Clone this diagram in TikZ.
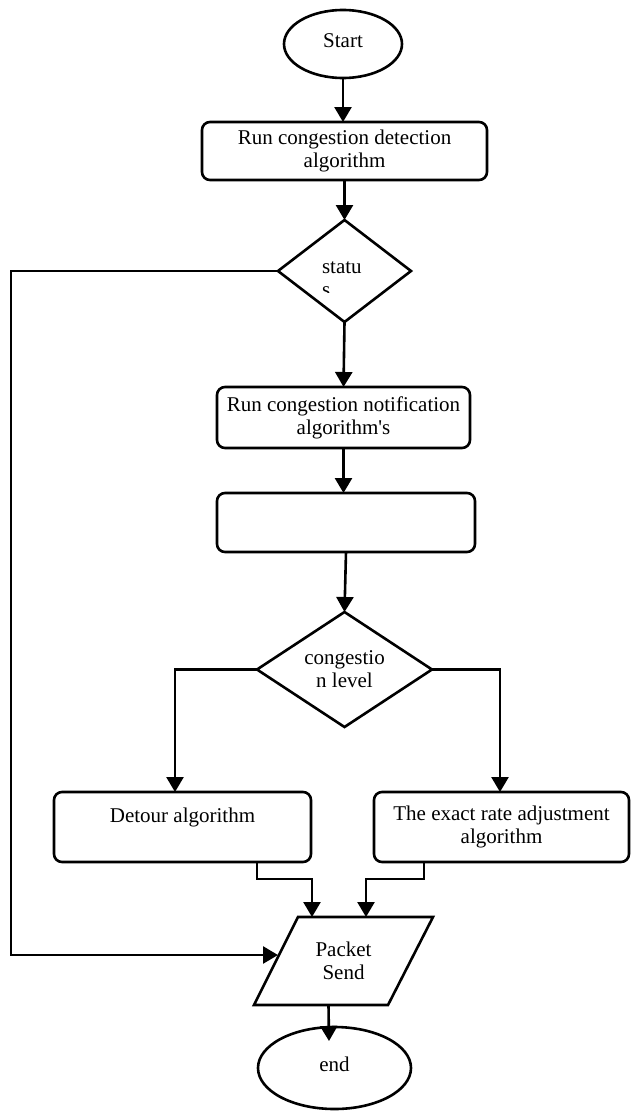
\documentclass[tikz,border=0pt]{standalone}
\usepackage{fontspec}
\setmainfont{Liberation Serif}[Ligatures=TeXOff]
\usetikzlibrary{shapes.geometric,arrows.meta,calc}
\begin{document}
\begin{tikzpicture}[x=1pt,y=-1pt,
  line width=2.6pt,
  every node/.style={font=\fontsize{21}{23}\selectfont, inner sep=0pt, outer sep=0pt},
  arr/.style={-{Triangle[length=15pt,width=17pt]}},
  proc/.style={draw, rectangle, rounded corners=8pt, align=center},
  dec/.style={draw, diamond},
  term/.style={draw, ellipse},
  lbl/.style={align=center}]
\useasboundingbox (0,0) rectangle (630,1111);

\node[term, minimum width=118pt, minimum height=68pt] (start) at (343,44) {\raisebox{7pt}{Start}};
\node[proc, minimum width=285pt, minimum height=58pt] (box1) at (344.5,151) {Run congestion detection\\algorithm};
\node[dec, minimum width=133pt, minimum height=102pt] (status) at (344.5,271) {};
\node[anchor=base west] (st1) at (322,273) {statu};
\begin{scope}
  \clip (300,240) rectangle (380,292);
  \node[anchor=base west] (st2) at (322,296) {s};
\end{scope}
\node[proc, minimum width=253pt, minimum height=61pt] (box2) at (343.5,417.5) {Run congestion notification\\algorithm's};
\node[proc, minimum width=258pt, minimum height=59pt] (box3) at (346,522.5) {};
\node[dec, minimum width=175pt, minimum height=115pt] (dia2) at (344.5,669.5) {};
\node[lbl] (dtxt) at (344.5,669) {congestio\\n level};
\node[proc, minimum width=257pt, minimum height=70pt] (detour) at (182.5,827) {Detour algorithm\\\mbox{}};
\node[proc, minimum width=255pt, minimum height=70pt] (rate) at (501.5,827) {The exact rate adjustment\\algorithm};
\node[minimum width=179pt, minimum height=88pt, align=center] (packet) at (343.5,961) {Packet\\Send};
\draw (packet.south west) -- ([xshift=44pt]packet.north west) -- (packet.north east) -- ([xshift=-45pt]packet.south east) -- cycle;
\node[term, minimum width=153pt, minimum height=82pt] (end) at (334.5,1068) {\raisebox{7pt}{end}};

\draw[arr] (start.south) -- (start.south |- box1.north);
\draw[arr] (box1.south) -- (status.north);
\draw[arr] (status.south) -- (box2.north);
\draw[arr] (box2.south) -- (box2.south |- box3.north);
\draw[arr] (box3.south) -- (dia2.north);

\coordinate (lb) at (175,669);
\coordinate (rb) at (500,669);
\draw[arr] (dia2.west) -- (dia2.west -| lb) -- (lb |- detour.north);
\draw[arr] (dia2.east) -- (dia2.east -| rb) -- (rb |- rate.north);

\coordinate (ll) at (11,955);
\coordinate (pin) at (278,955);
\draw[arr] (status.west) -- (status.west -| ll) -- (ll) -- (pin);

\coordinate (d1) at (257,879);
\coordinate (d2) at (312,879);
\draw[arr] (detour.south -| d1) -- (d1) -- (d2) -- (d2 |- packet.north);
\coordinate (r1) at (424,879);
\coordinate (r2) at (366,879);
\draw[arr] (rate.south -| r1) -- (r1) -- (r2) -- (r2 |- packet.north);

\draw[arr] ([xshift=-15pt]packet.south) -- ([xshift=-5.5pt,yshift=-14pt]end.north);
\end{tikzpicture}
\end{document}
